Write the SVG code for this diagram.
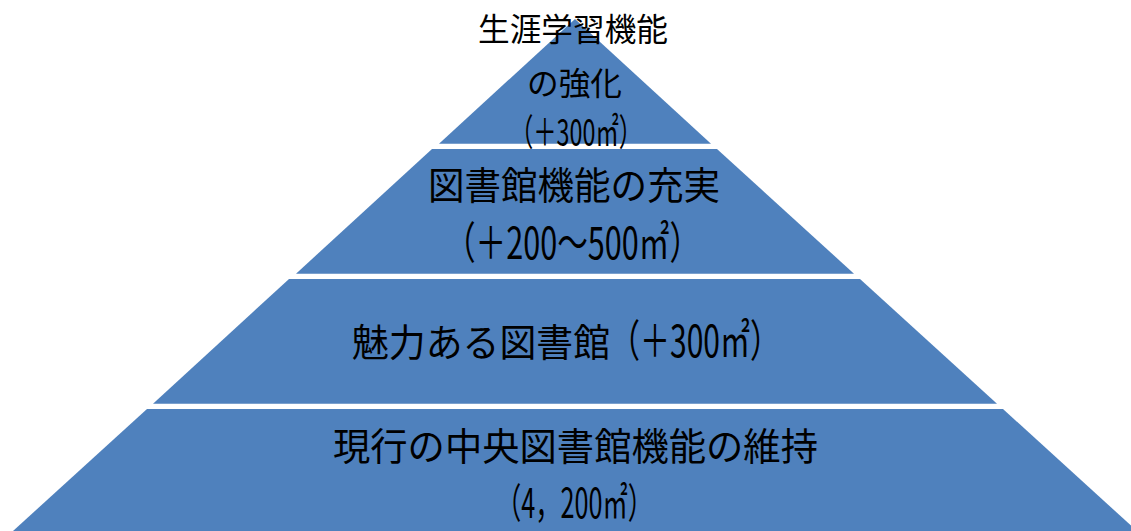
<svg xmlns="http://www.w3.org/2000/svg" width="1131" height="531" viewBox="0 0 1131 531">
  <style>
    .layer { fill: #4F81BD; stroke: none; }
    .t { font-family: "Noto Sans CJK JP", "Noto Sans", sans-serif; fill: #000000; text-anchor: middle; dominant-baseline: central; }
    .l { text-anchor: start; }
    .s { font-size: 32px; }
    .sn { font-size: 37px; }
    .m { font-size: 38px; }
    .n { font-size: 44px; }
    .nb { font-size: 41px; }
  </style>
  <rect width="1131" height="531" fill="#FFFFFF"/>
  <g id="layer4">
    <polygon class="layer" points="147,409 1003,409 1137,531 13,531"/>
    <text class="t m" x="575.5" y="443" textLength="485" lengthAdjust="spacingAndGlyphs">現行の中央図書館機能の維持</text>
    <text class="t nb" x="574.5" y="500" textLength="157" lengthAdjust="spacingAndGlyphs">（4，200㎡）</text>
  </g>
  <g id="layer3">
    <polygon class="layer" points="289,279 860,279 997,403.7 153,403.7"/>
    <text class="t m l" x="352" y="339" textLength="258" lengthAdjust="spacingAndGlyphs">魅力ある図書館</text>
    <text class="t n l" x="610" y="338" textLength="170" lengthAdjust="spacingAndGlyphs">（＋300㎡）</text>
  </g>
  <g id="layer2">
    <polygon class="layer" points="432,149 717,149 854,273.7 296,273.7"/>
    <text class="t m" x="574" y="182" textLength="292" lengthAdjust="spacingAndGlyphs">図書館機能の充実</text>
    <text class="t n" x="572.5" y="240" textLength="255" lengthAdjust="spacingAndGlyphs">（＋200～500㎡）</text>
  </g>
  <g id="layer1">
    <polygon class="layer" points="575,19 711,143.7 439,143.7"/>
    <text class="t s" x="573" y="27" textLength="190" lengthAdjust="spacingAndGlyphs">生涯学習機能</text>
    <text class="t s" x="574.5" y="81" textLength="95" lengthAdjust="spacingAndGlyphs">の強化</text>
    <text class="t sn" x="576" y="130" textLength="132" lengthAdjust="spacingAndGlyphs">（＋300㎡）</text>
  </g>
  <g id="connectors"/>
</svg>
